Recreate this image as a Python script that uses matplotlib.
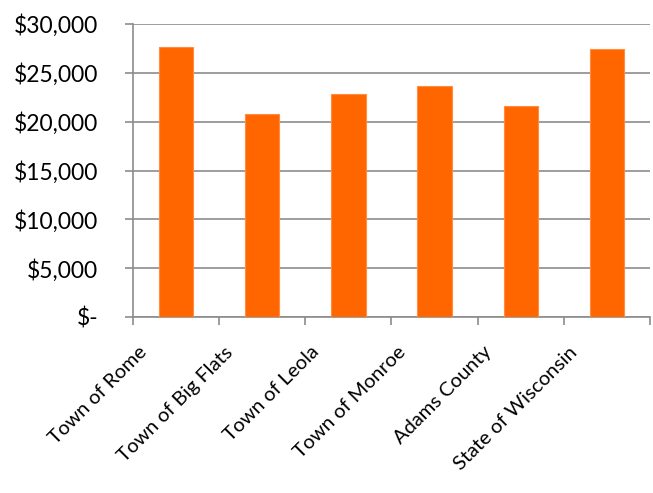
import matplotlib
matplotlib.use('Agg')
import matplotlib.pyplot as plt
from matplotlib.ticker import FuncFormatter
import matplotlib.transforms as mtrans

# Donnees
places = ['Town of Rome', 'Town of Big Flats', 'Town of Leola',
          'Town of Monroe', 'Adams County', 'State of Wisconsin']
income = [27600, 20750, 22850, 23700, 21650, 27400]
y_ticks = [0, 5000, 10000, 15000, 20000, 25000, 30000]

plt.rcParams['font.family'] = ['Lato', 'DejaVu Sans']

fig = plt.figure(figsize=(6.53, 4.93), dpi=100)
ax = fig.add_axes([133/653, 1 - 317/493, (650-133)/653, (317-24)/493])

x = range(len(places))
ax.bar(x, income, width=0.4, color='#FF6600', edgecolor='#FF8C40', linewidth=0.8, zorder=3)

ax.set_xlim(-0.5, len(places) - 0.5)
ax.set_ylim(0, 30000)
ax.set_yticks(y_ticks)
ax.yaxis.set_major_formatter(FuncFormatter(lambda v, p: '$-' if v == 0 else '${:,.0f}'.format(v)))
ax.grid(axis='y', color='#8c8c8c', linewidth=1.2, zorder=0)

# ticks de l'axe x entre les categories
ax.set_xticks([i - 0.5 for i in range(len(places) + 1)], minor=False)
ax.set_xticklabels([''] * (len(places) + 1))
ax.set_xticks(list(x), minor=True)
ax.set_xticklabels(places, minor=True, rotation=45, ha='right', rotation_mode='anchor',
                   fontsize=14.5, color='black')
ax.tick_params(axis='x', which='minor', length=0, pad=19)
ax.tick_params(axis='x', which='major', length=6, width=1.2, color='#8c8c8c')
ax.tick_params(axis='y', length=6, width=1.2, color='#8c8c8c', labelsize=16.5, pad=19)

off = mtrans.ScaledTranslation(-38/100, 0, fig.dpi_scale_trans)
for lab in ax.get_xticklabels(minor=True):
    lab.set_transform(lab.get_transform() + off)

for s in ['top', 'right']:
    ax.spines[s].set_visible(False)
for s in ['left', 'bottom']:
    ax.spines[s].set_color('#8c8c8c')
    ax.spines[s].set_linewidth(1.2)

fig.savefig('out.png', dpi=100)
